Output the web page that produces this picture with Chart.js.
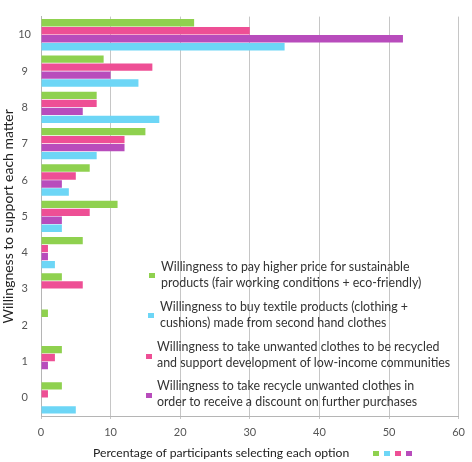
<!DOCTYPE html>
<html>
<head>
<meta charset="utf-8">
<script src="https://cdn.jsdelivr.net/npm/chart.js@4"></script>
<style>
  html, body { margin: 0; padding: 0; background: #ffffff; }
  #wrap { position: relative; width: 472px; height: 462px; font-family: Lato, "Open Sans", sans-serif; }
  #chart { position: absolute; left: 0; top: 0; }
  .leg { position: absolute; font-size: 12.4px; line-height: 16px; color: #333; white-space: nowrap; }
  .sq { position: absolute; width: 6px; height: 5px; }
  #xtitle { position: absolute; left: 93px; top: 445px; font-size: 12.2px; line-height: 16px; color: #222; white-space: nowrap; }
  #xtitle i { display: inline-block; width: 6px; height: 5px; margin-left: 5px; vertical-align: 1px; }
  #xtitle i:first-of-type { margin-left: 24px; }
</style>
</head>
<body>
<div id="wrap">
  <canvas id="chart" width="472" height="462"></canvas>
  <div id="legend"></div>
  <div id="xtitle"><span id="xtext"></span></div>
</div>
<script>
// Kategorien (oben nach unten)
const categories = ['10', '9', '8', '7', '6', '5', '4', '3', '2', '1', '0'];

// Werte je Serie, gleiche Reihenfolge wie categories
const payHigher   = [22, 9, 8, 15, 7, 11, 6, 3, 1, 3, 3];
const takeRecycle = [30, 16, 8, 12, 5, 7, 1, 6, 0, 2, 1];
const discount    = [52, 10, 6, 12, 3, 3, 1, 0, 0, 1, 0];
const buySecond   = [35, 14, 17, 8, 4, 3, 2, 0, 0, 0, 5];

const xTicks = [0, 10, 20, 30, 40, 50, 60];

const colors = {
  green: '#8fd14f',
  pink: '#ee4f95',
  purple: '#b84cbc',
  cyan: '#6dd6f6'
};

const legendLabels = [
  'Willingness to pay higher price for sustainable\nproducts (fair working conditions + eco-friendly)',
  'Willingness to buy textile products (clothing +\ncushions) made from second hand clothes',
  'Willingness to take unwanted clothes to be recycled\nand support development of low-income communities',
  'Willingness to take recycle unwanted clothes in\norder to receive a discount on further purchases'
];
const legendColors = [colors.green, colors.cyan, colors.pink, colors.purple];

// Legende als HTML (mehrzeilig, im Diagramm)
const legendPos = [
  { top: 259, textX: 161, sqX: 149, sqY: 273 },
  { top: 299, textX: 160, sqX: 148, sqY: 313 },
  { top: 339, textX: 157, sqX: 146, sqY: 354 },
  { top: 378, textX: 157, sqX: 146, sqY: 393 }
];
const legendEl = document.getElementById('legend');
legendLabels.forEach((txt, i) => {
  const p = legendPos[i];
  const d = document.createElement('div');
  d.className = 'leg';
  d.style.left = p.textX + 'px';
  d.style.top = p.top + 'px';
  d.innerHTML = txt.split('\n').join('<br>');
  legendEl.appendChild(d);
  const s = document.createElement('div');
  s.className = 'sq';
  s.style.left = p.sqX + 'px';
  s.style.top = p.sqY + 'px';
  s.style.background = legendColors[i];
  legendEl.appendChild(s);
});

// x-Achsentitel mit kleinen Farbquadraten
const xt = document.getElementById('xtitle');
document.getElementById('xtext').textContent = 'Percentage of participants selecting each option';
legendColors.forEach(c => {
  const s = document.createElement('i');
  s.style.background = c;
  xt.appendChild(s);
});

function ds(label, data, color) {
  return {
    label: label,
    data: data,
    backgroundColor: color,
    borderWidth: 0,
    categoryPercentage: 0.88,
    barPercentage: 0.92
  };
}

new Chart(document.getElementById('chart').getContext('2d'), {
  type: 'bar',
  data: {
    labels: categories,
    datasets: [
      ds(legendLabels[0], payHigher, colors.green),
      ds(legendLabels[2], takeRecycle, colors.pink),
      ds(legendLabels[3], discount, colors.purple),
      ds(legendLabels[1], buySecond, colors.cyan)
    ]
  },
  options: {
    indexAxis: 'y',
    responsive: false,
    animation: false,
    layout: { padding: { top: 1, right: 6, left: 0, bottom: 0 } },
    scales: {
      x: {
        min: xTicks[0],
        max: xTicks[xTicks.length - 1],
        afterFit: s => { s.height = 46; },
        afterBuildTicks: s => { s.ticks = xTicks.map(v => ({ value: v })); },
        grid: { color: '#c6c6c6', lineWidth: 1, tickLength: 3 },
        border: { color: '#b5b5b5' },
        ticks: { color: '#555', font: { family: 'Lato', size: 11 }, padding: 7 }
      },
      y: {
        afterFit: s => { s.width = 41; },
        grid: { display: false, drawTicks: false },
        border: { display: true, color: '#b5b5b5' },
        ticks: { color: '#555', font: { family: 'Lato', size: 11 }, crossAlign: 'center', padding: 10 },
        title: {
          display: true,
          text: 'Willingness to support each matter',
          color: '#222',
          font: { family: 'Lato', size: 14 },
          padding: { top: 0, bottom: 0 }
        }
      }
    },
    plugins: {
      legend: { display: false },
      tooltip: { enabled: false }
    }
  }
});
</script>
</body>
</html>
